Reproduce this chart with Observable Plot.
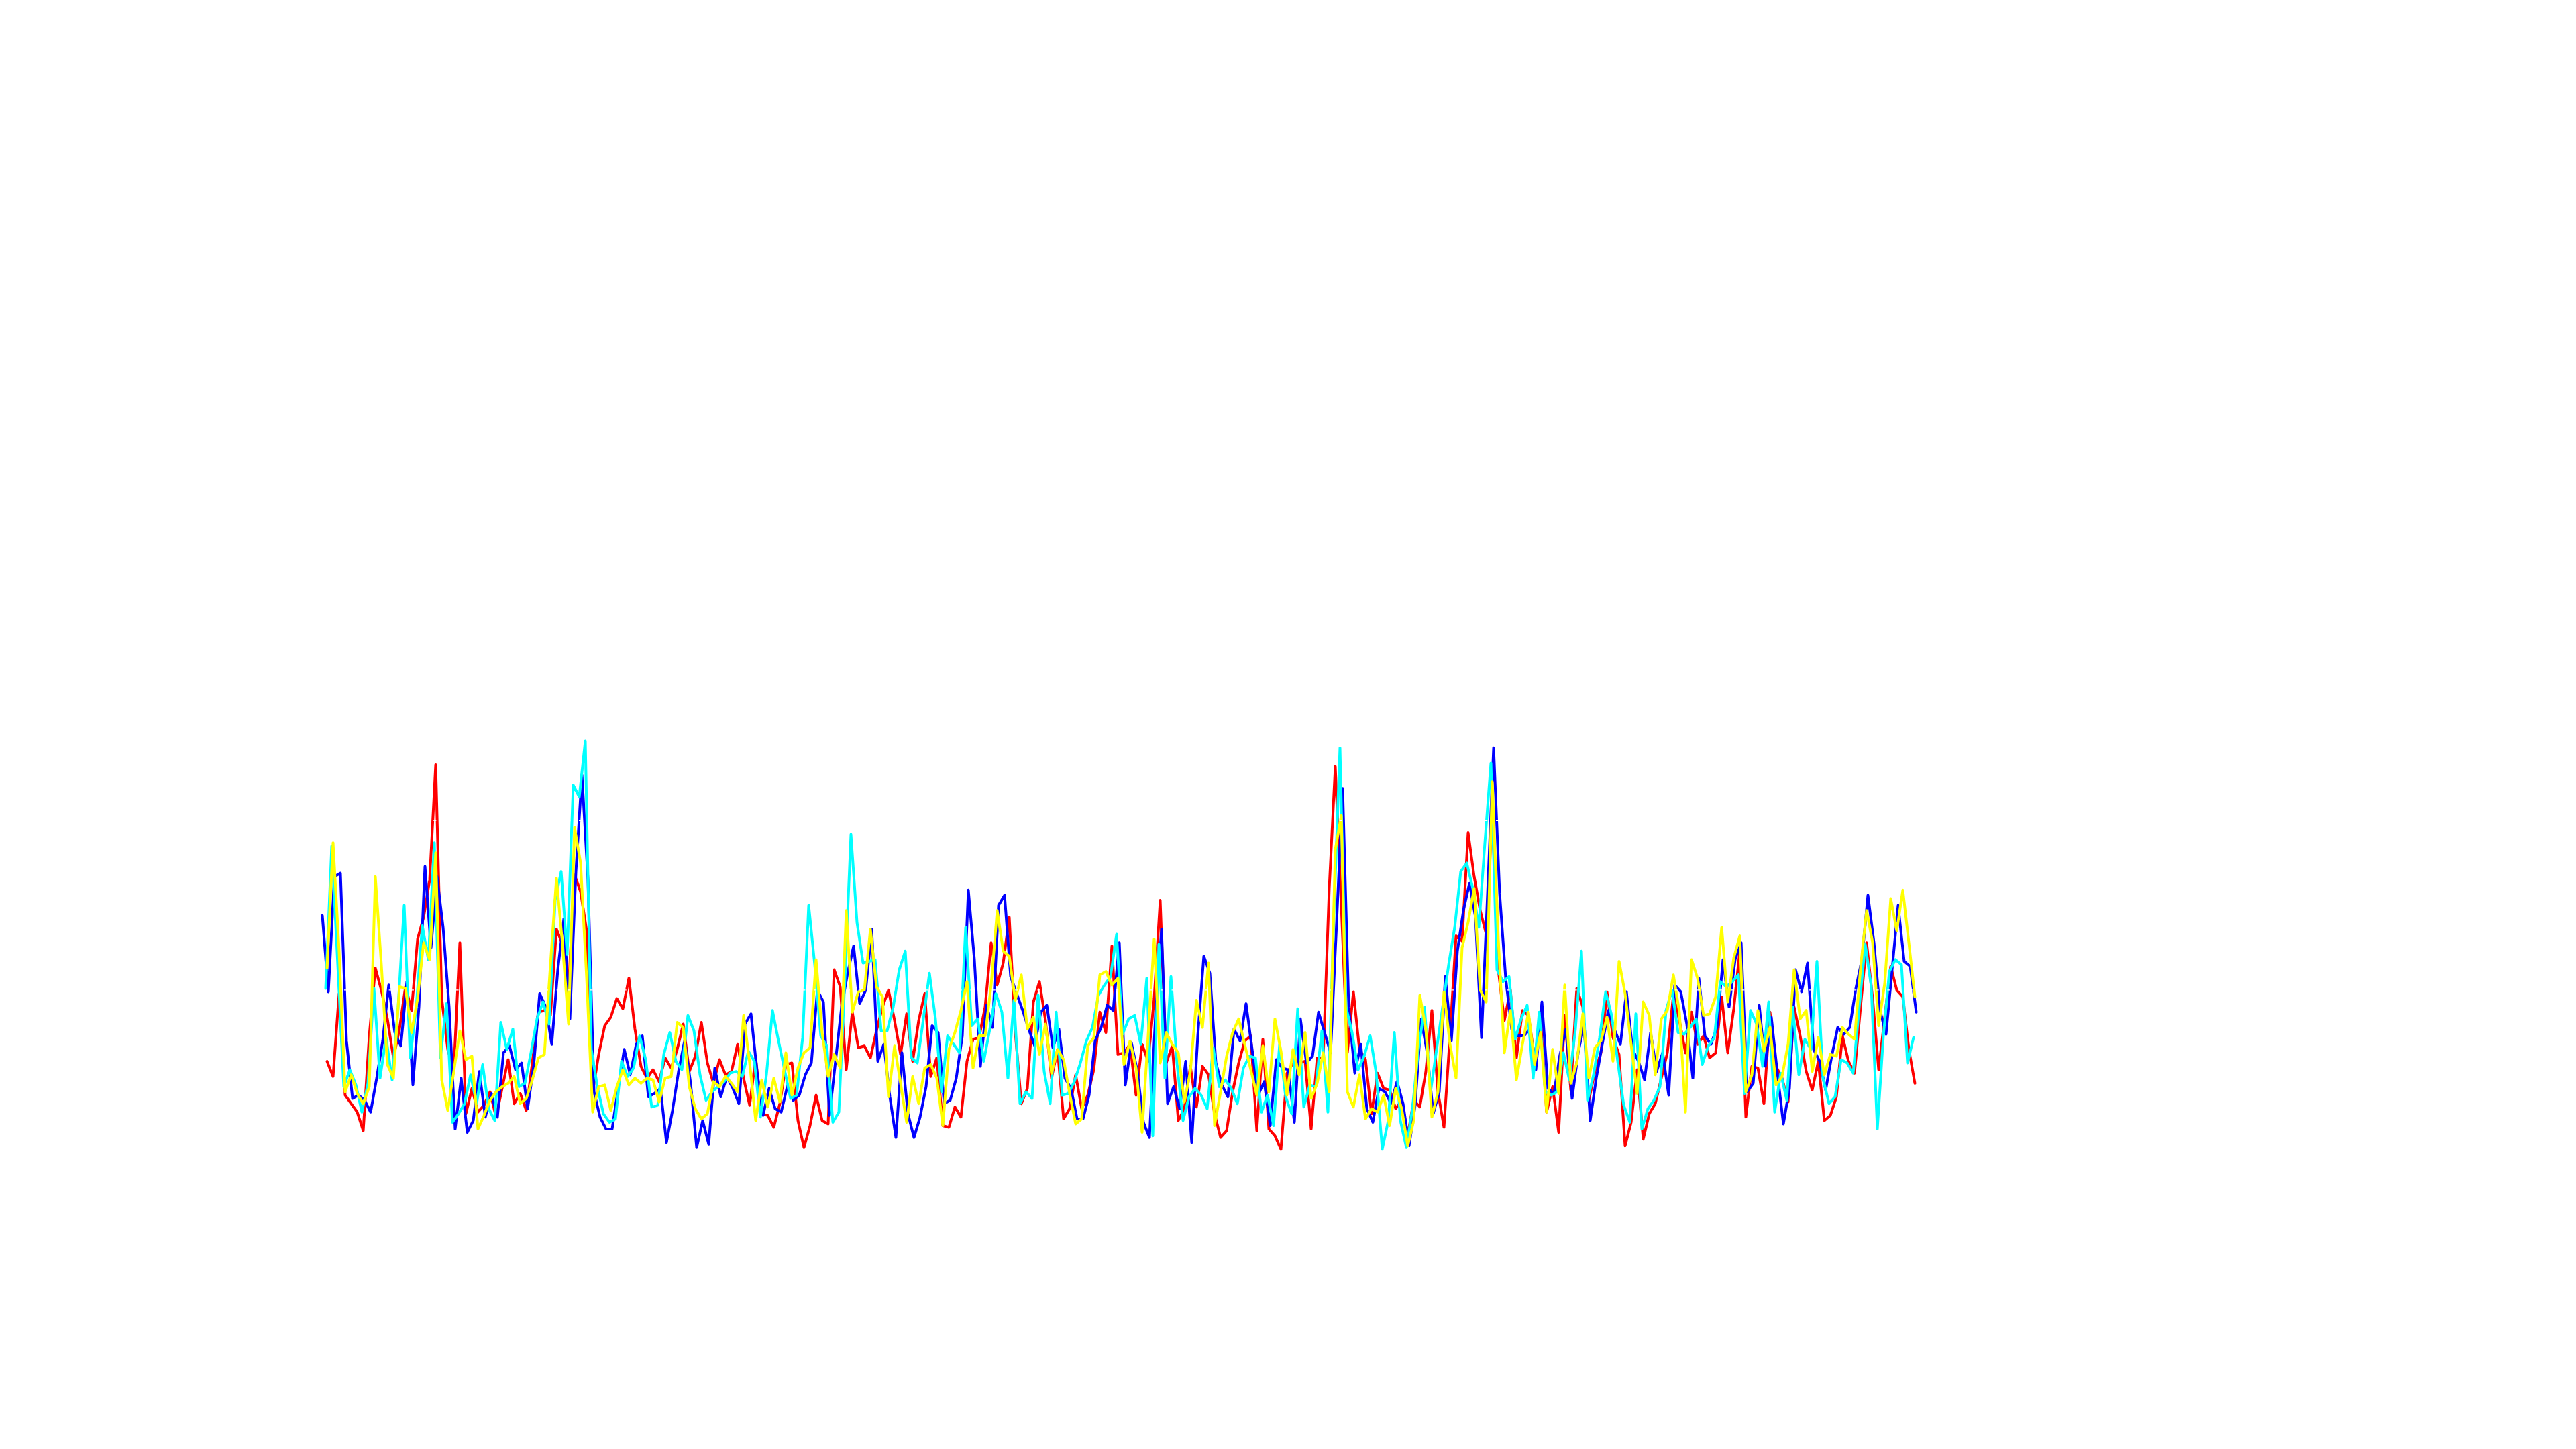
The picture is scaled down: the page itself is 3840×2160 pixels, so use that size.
<!DOCTYPE html>
<html>
<head>
<meta charset="utf-8">
<script src="https://cdn.jsdelivr.net/npm/d3@7"></script>
<script src="https://cdn.jsdelivr.net/npm/@observablehq/plot@0.6"></script>
<style>
  html, body { margin: 0; padding: 0; background: #ffffff; }
  #chart svg { display: block; }
</style>
</head>
<body>
<div id="chart"></div>
<script>
// Series values (one value per step).
const redValues = [
  0.58,0.49,0.98,0.38,0.33,0.28,0.17,0.73,1.13,1.00,
  0.83,0.60,0.77,1.02,0.88,1.30,1.43,1.65,2.33,0.95,
  0.65,0.53,1.28,0.27,0.42,0.28,0.32,0.40,0.25,0.42,
  0.59,0.33,0.39,0.29,0.57,0.87,0.88,0.85,1.36,1.27,
  1.00,1.68,1.58,1.35,0.40,0.62,0.79,0.84,0.95,0.89,
  1.07,0.77,0.55,0.48,0.53,0.46,0.60,0.54,0.65,0.80,
  0.52,0.61,0.81,0.57,0.45,0.59,0.50,0.52,0.68,0.48,
  0.32,0.60,0.27,0.26,0.19,0.33,0.56,0.57,0.23,0.07,
  0.20,0.38,0.23,0.21,1.12,1.02,0.53,0.87,0.66,0.67,
  0.60,0.76,0.90,1.00,0.82,0.62,0.86,0.58,0.82,0.98,
  0.49,0.60,0.20,0.19,0.31,0.25,0.58,0.71,0.72,0.90,
  1.28,1.03,1.16,1.43,0.75,0.33,0.42,0.93,1.05,0.82,
  0.48,0.65,0.24,0.30,0.50,0.30,0.38,0.53,0.87,0.75,
  1.26,0.62,0.63,0.68,0.38,0.68,0.58,0.95,1.53,0.57,
  0.67,0.23,0.30,0.55,0.31,0.55,0.50,0.27,0.13,0.17,
  0.40,0.57,0.70,0.73,0.17,0.71,0.18,0.14,0.06,0.51,
  0.57,0.57,0.58,0.18,0.60,0.60,1.60,2.32,1.50,0.63,
  0.99,0.65,0.59,0.27,0.51,0.42,0.41,0.30,0.35,0.14,
  0.35,0.31,0.52,0.88,0.40,0.19,0.73,1.32,1.29,1.93,
  1.67,1.47,1.33,2.05,1.12,0.82,1.00,0.60,0.88,0.85,
  0.60,0.83,0.28,0.43,0.16,0.85,0.41,1.01,0.90,0.35,
  0.52,0.63,0.99,0.72,0.62,0.08,0.22,0.53,0.12,0.27,
  0.33,0.48,0.63,0.97,0.82,0.63,0.87,0.68,0.73,0.60,
  0.63,0.96,0.63,0.89,1.23,0.25,0.55,0.54,0.33,0.87,
  0.55,0.48,0.34,0.90,0.73,0.52,0.41,0.58,0.23,0.26,
  0.37,0.73,0.58,0.51,0.90,1.28,0.95,0.53,0.84,1.14,
  1.00,0.96,0.65,0.45
];

// Blue starts one step earlier than the other three series.
const blueValues = [
  1.44,
  0.99,1.67,1.69,0.70,0.36,0.38,0.35,0.28,0.48,0.70,
  1.03,0.75,0.67,1.05,0.44,0.90,1.73,1.25,1.67,1.37,
  0.90,0.18,0.48,0.16,0.23,0.52,0.25,0.39,0.25,0.63,
  0.67,0.53,0.57,0.30,0.55,0.98,0.90,0.68,1.12,1.42,
  0.83,1.70,2.27,1.65,0.40,0.25,0.18,0.18,0.42,0.65,
  0.50,0.68,0.73,0.37,0.39,0.42,0.10,0.29,0.52,0.70,
  0.45,0.07,0.23,0.09,0.54,0.37,0.49,0.42,0.33,0.80,
  0.86,0.52,0.26,0.42,0.30,0.28,0.43,0.35,0.38,0.50,
  0.57,1.00,0.93,0.26,0.58,0.90,1.10,1.26,0.92,1.00,
  1.36,0.58,0.68,0.37,0.13,0.63,0.27,0.13,0.25,0.43,
  0.79,0.75,0.33,0.35,0.48,0.73,1.59,1.18,0.55,0.91,
  0.78,1.50,1.56,1.08,0.98,0.88,0.77,0.67,0.87,0.91,
  0.66,0.77,0.48,0.42,0.24,0.24,0.38,0.70,0.78,0.91,
  0.88,1.28,0.44,0.69,0.52,0.22,0.13,0.85,1.36,0.33,
  0.43,0.30,0.58,0.10,0.73,1.20,1.10,0.57,0.44,0.37,
  0.77,0.70,0.92,0.65,0.38,0.46,0.20,0.59,0.54,0.53,
  0.22,0.83,0.57,0.61,0.87,0.75,0.63,1.40,2.19,0.90,
  0.51,0.68,0.30,0.22,0.42,0.40,0.33,0.46,0.33,0.08,
  0.32,0.83,0.63,0.27,0.40,1.08,0.70,1.23,1.47,1.63,
  1.43,0.72,1.57,2.43,1.57,1.07,0.77,0.73,0.73,0.77,
  0.53,0.93,0.42,0.39,0.62,0.77,0.36,0.63,0.80,0.23,
  0.48,0.68,0.88,0.77,0.68,0.99,0.65,0.58,0.47,0.75,
  0.52,0.63,0.38,1.03,0.99,0.80,0.48,1.07,0.73,0.68,
  0.78,1.18,0.90,1.18,1.28,0.40,0.45,0.91,0.55,0.84,
  0.51,0.21,0.42,1.12,0.99,1.16,0.65,0.58,0.41,0.61,
  0.78,0.74,0.78,1.01,1.18,1.56,1.28,0.88,0.74,1.12,
  1.50,1.17,1.14,0.87
];

const cyanValues = [
  1.01,1.85,1.15,0.43,0.53,0.44,0.28,0.45,1.01,0.48,
  0.72,0.47,0.90,1.50,0.60,0.90,1.38,1.18,1.87,0.60,
  0.92,0.22,0.27,0.33,0.50,0.33,0.56,0.30,0.23,0.81,
  0.65,0.77,0.43,0.45,0.63,0.83,0.93,0.80,1.53,1.70,
  1.21,2.21,2.14,2.47,0.65,0.43,0.27,0.22,0.24,0.58,
  0.49,0.54,0.73,0.59,0.31,0.32,0.62,0.75,0.58,0.53,
  0.85,0.76,0.50,0.35,0.40,0.43,0.46,0.51,0.52,0.49,
  0.64,0.58,0.25,0.50,0.88,0.70,0.53,0.36,0.38,0.72,
  1.50,1.15,0.73,0.67,0.22,0.28,1.07,1.92,1.40,1.16,
  1.17,1.18,0.76,0.76,0.90,1.12,1.23,0.60,0.57,0.83,
  1.10,0.83,0.40,0.73,0.68,0.63,1.37,0.79,0.83,0.58,
  0.77,0.98,0.87,0.48,0.94,0.33,0.40,0.36,0.97,0.52,
  0.33,0.87,0.38,0.39,0.46,0.57,0.70,0.78,0.97,1.03,
  1.08,1.33,0.74,0.83,0.85,0.68,1.07,0.14,1.27,0.48,
  1.08,0.57,0.23,0.37,0.42,0.38,0.30,0.66,0.43,0.47,
  0.42,0.33,0.54,0.61,0.60,0.28,0.38,0.20,0.68,0.37,
  0.27,0.89,0.31,0.44,0.43,0.76,0.28,1.45,2.43,0.90,
  0.75,0.53,0.61,0.73,0.51,0.06,0.23,0.75,0.23,0.07,
  0.30,0.65,0.90,0.40,0.65,0.90,1.15,1.37,1.70,1.75,
  1.60,1.37,1.87,2.34,1.12,1.05,1.08,0.71,0.83,0.91,
  0.48,0.87,0.40,0.38,0.40,0.63,0.47,0.77,1.23,0.35,
  0.50,0.72,0.99,0.85,0.58,0.32,0.22,0.86,0.18,0.30,
  0.35,0.43,0.88,1.00,0.75,0.74,0.78,0.83,0.56,0.67,
  0.72,1.05,1.02,1.05,1.09,0.39,0.88,0.80,0.55,0.93,
  0.28,0.51,0.35,0.90,0.50,0.71,0.65,1.17,0.48,0.33,
  0.37,0.59,0.57,0.51,0.90,1.27,1.02,0.18,0.73,1.11,
  1.18,1.15,0.57,0.72
];

const yellowValues = [
  1.13,1.87,1.23,0.40,0.50,0.39,0.33,0.43,1.67,1.15,
  0.56,0.48,1.02,1.01,0.75,0.95,1.28,1.18,1.81,0.47,
  0.29,0.52,0.76,0.59,0.61,0.18,0.26,0.35,0.40,0.43,
  0.45,0.49,0.33,0.36,0.47,0.60,0.62,1.15,1.66,1.27,
  0.80,1.96,1.75,1.07,0.28,0.43,0.44,0.29,0.43,0.53,
  0.44,0.48,0.45,0.48,0.47,0.34,0.48,0.49,0.81,0.78,
  0.43,0.30,0.24,0.27,0.46,0.43,0.49,0.45,0.40,0.85,
  0.57,0.23,0.47,0.31,0.48,0.34,0.63,0.38,0.54,0.63,
  0.66,1.18,0.75,0.49,0.62,0.54,1.47,0.87,0.99,1.00,
  1.36,1.02,0.96,0.37,0.67,0.45,0.22,0.49,0.33,0.54,
  0.56,0.48,0.20,0.65,0.75,0.88,1.05,0.54,0.73,0.73,
  1.03,1.47,1.23,1.20,0.94,1.09,0.77,0.84,0.62,0.80,
  0.51,0.65,0.59,0.39,0.21,0.24,0.67,0.72,1.09,1.11,
  1.03,1.07,0.56,0.70,0.54,0.16,0.73,1.30,0.57,0.75,
  0.68,0.63,0.34,0.52,0.94,0.78,1.16,0.20,0.40,0.61,
  0.75,0.83,0.68,0.53,0.38,0.67,0.40,0.83,0.64,0.38,
  0.65,0.50,0.75,0.36,0.45,0.63,0.40,1.83,2.03,0.40,
  0.31,0.50,0.24,0.30,0.28,0.38,0.20,0.42,0.30,0.08,
  0.23,0.97,0.77,0.25,0.40,0.99,0.68,0.48,1.25,1.40,
  1.60,1.00,0.93,2.23,1.30,0.63,0.88,0.47,0.68,0.87,
  0.56,0.75,0.28,0.65,0.39,1.03,0.45,0.57,0.86,0.48,
  0.66,0.70,0.84,0.58,1.17,0.98,0.68,0.39,0.93,0.85,
  0.50,0.83,0.88,1.09,0.87,0.28,1.18,1.07,0.85,0.86,
  0.96,1.37,0.93,1.19,1.32,0.40,0.50,0.88,0.64,0.78,
  0.44,0.49,0.68,1.12,0.83,0.88,0.52,0.72,0.50,0.62,
  0.61,0.78,0.74,0.71,1.13,1.47,1.28,0.79,1.04,1.54,
  1.35,1.59,1.28,0.96
];

const seriesNames = ["red", "blue", "cyan", "yellow"];
const seriesColors = ["#ff0000", "#0000ff", "#00ffff", "#ffff00"];
const gridTicks = [1, 2];

// Long-form table (step index t, value v); draw order red, blue, cyan, yellow.
const rows = [];
redValues.forEach((v, i) => rows.push({series: "red", t: i + 1, v}));
blueValues.forEach((v, i) => rows.push({series: "blue", t: i, v}));
cyanValues.forEach((v, i) => rows.push({series: "cyan", t: i + 1, v}));
yellowValues.forEach((v, i) => rows.push({series: "yellow", t: i + 1, v}));

// small horizontal nudges seen in the reference (blue slightly right, cyan slightly left)
const nudge = {red: 0, blue: 2, cyan: -2, yellow: 0};

const chart = Plot.plot({
  width: 3840,
  height: 2160,
  marginLeft: 478,
  marginRight: 986,
  marginTop: 0,
  marginBottom: 0,
  style: {background: "#ffffff"},
  x: {domain: [0, blueValues.length - 1], axis: null},
  y: {domain: [-1.7102, 6.8409], axis: null},
  color: {domain: seriesNames, range: seriesColors},
  marks: [
    ...seriesNames.map((name) =>
      Plot.line(rows.filter((d) => d.series === name), {
        x: "t", y: "v", stroke: "series", strokeWidth: 4, dx: nudge[name]
      })
    ),
    Plot.ruleY(gridTicks, {stroke: "#ffffff", strokeWidth: 1.2, strokeDasharray: "4,12.67", strokeDashoffset: -1.6})
  ]
});
document.getElementById("chart").appendChild(chart);
</script>
</body>
</html>
